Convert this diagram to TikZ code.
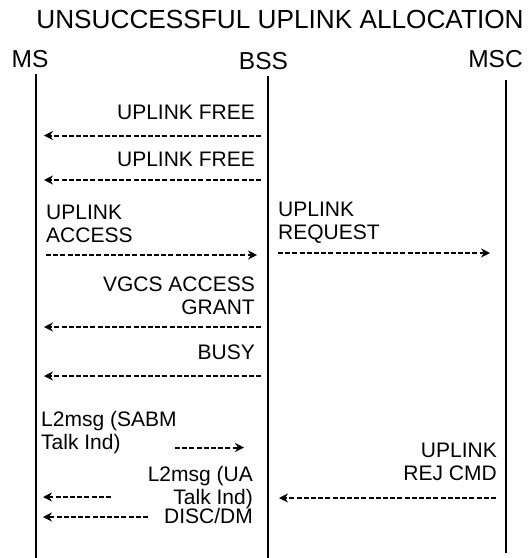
\documentclass[tikz,border=0pt]{standalone}
\usepackage{fontspec}
\setmainfont{Liberation Sans}
\usetikzlibrary{arrows.meta}
\begin{document}
\begin{tikzpicture}[x=1pt,y=-1pt,
  lifeline/.style={line width=2pt},
  msgarrow/.style={line width=2pt, dash pattern=on 5pt off 2.2pt,
    -{Stealth[length=9pt,width=9pt,inset=3pt]}},
  msgtxt/.style={inner sep=0pt, font=\fontsize{21}{23}\selectfont},
  entity/.style={inner sep=0pt, anchor=north, font=\fontsize{24.5}{28}\selectfont},
  titletxt/.style={inner sep=0pt, anchor=north, font=\fontsize{26.2}{30}\selectfont}]
\useasboundingbox (0,0) rectangle (530,558);

\node[titletxt] (title) at (280,10) {UNSUCCESSFUL UPLINK ALLOCATION};
\node[entity] (ms) at (30,50) {MS};
\node[entity] (bss) at (263.5,52) {BSS};
\node[entity] (msc) at (495.5,50) {MSC};

\coordinate (msTop) at (36,74);  \coordinate (msBot) at (36,558);
\coordinate (bssTop) at (268,76); \coordinate (bssBot) at (268,558);
\coordinate (mscTop) at (506,80); \coordinate (mscBot) at (506,553);
\draw[lifeline] (msTop) -- (msBot);
\draw[lifeline] (bssTop) -- (bssBot);
\draw[lifeline] (mscTop) -- (mscBot);

% 1 UPLINK FREE
\node[msgtxt, anchor=north east] (uf1) at (255,105) {UPLINK FREE};
\coordinate (a1s) at (261,135.5); \coordinate (a1e) at (44,135.5);
\draw[msgarrow] (a1s) -- (a1e);
% 2 UPLINK FREE
\node[msgtxt, anchor=north east] (uf2) at (255,152) {UPLINK FREE};
\coordinate (a2s) at (261,180); \coordinate (a2e) at (44,180);
\draw[msgarrow] (a2s) -- (a2e);
% 3 UPLINK ACCESS
\node[msgtxt, anchor=north west, align=left] (ua) at (46,205) {UPLINK\\ACCESS};
\coordinate (a3s) at (46,255); \coordinate (a3e) at (257,255);
\draw[msgarrow] (a3s) -- (a3e);
% 4 UPLINK REQUEST
\node[msgtxt, anchor=north west, align=left] (ur) at (278,202) {UPLINK\\REQUEST};
\coordinate (a4s) at (278,253); \coordinate (a4e) at (490,253);
\draw[msgarrow] (a4s) -- (a4e);
% 5 VGCS ACCESS GRANT
\node[msgtxt, anchor=north east, align=right] (vg) at (255,277) {VGCS ACCESS\\GRANT};
\coordinate (a5s) at (261,327); \coordinate (a5e) at (44,327);
\draw[msgarrow] (a5s) -- (a5e);
% 6 BUSY
\node[msgtxt, anchor=north east] (busy) at (255,345) {BUSY};
\coordinate (a6s) at (261,376); \coordinate (a6e) at (44,376);
\draw[msgarrow] (a6s) -- (a6e);
% 7 L2msg SABM
\node[msgtxt, anchor=north west, align=left] (sabm) at (41,411) {L2msg (SABM\\Talk Ind)};
\coordinate (a7s) at (175,447.5); \coordinate (a7e) at (244,447.5);
\draw[msgarrow] (a7s) -- (a7e);
% 8 UPLINK REJ CMD
\node[msgtxt, anchor=north east, align=right] (rej) at (497,443) {UPLINK\\REJ CMD};
\coordinate (a8s) at (496,498); \coordinate (a8e) at (279,498);
\draw[msgarrow] (a8s) -- (a8e);
% 9 L2msg UA
\node[msgtxt, anchor=north east, align=right] (ua2) at (253,466) {L2msg (UA\\Talk Ind)};
\coordinate (a9s) at (111,497); \coordinate (a9e) at (43,497);
\draw[msgarrow] (a9s) -- (a9e);
% 10 DISC/DM
\node[msgtxt, anchor=north east] (disc) at (253,508.5) {DISC/DM};
\coordinate (a10s) at (148,517); \coordinate (a10e) at (43,517);
\draw[msgarrow] (a10s) -- (a10e);
\end{tikzpicture}
\end{document}
